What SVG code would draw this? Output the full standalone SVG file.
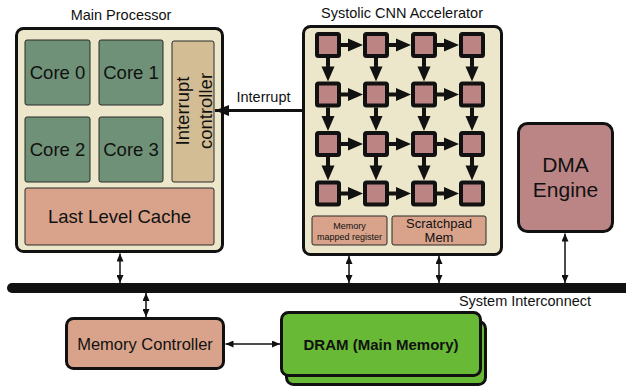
<svg xmlns="http://www.w3.org/2000/svg" xmlns:xlink="http://www.w3.org/1999/xlink" width="626" height="387" viewBox="0 0 626 387">
<style>
text{font-family:"Liberation Sans",Arial,Helvetica,sans-serif;fill:#111;}
.box{stroke:#111;stroke-width:3;}
.cream{fill:#ece6ca;}
.core{fill:#6f9177;stroke:#2a2a2a;stroke-width:1;}
.tan{fill:#d3bd95;stroke:#2a2a2a;stroke-width:1;}
.salmon{fill:#d8a38a;stroke:#2a2a2a;stroke-width:1;}
.pe{fill:#bd8484;stroke:#111;stroke-width:4;}
.t18{font-size:18.5px;text-anchor:middle;}
.ttl{font-size:14.5px;text-anchor:middle;}
.wire{stroke:#111;stroke-width:1.5;fill:none;marker-start:url(#ah);marker-end:url(#ah);}
.ga{fill:#111;}
</style>
<defs>
<marker id="ah" viewBox="0 0 8 7" refX="8" refY="3.5" markerWidth="8" markerHeight="7" markerUnits="userSpaceOnUse" orient="auto-start-reverse"><path d="M0 0L8 3.5L0 7Z" fill="#111"/></marker>
<marker id="ahb" viewBox="0 0 14 11" refX="14" refY="5.5" markerWidth="14" markerHeight="11" markerUnits="userSpaceOnUse" orient="auto"><path d="M0 0L14 5.5L0 11Z" fill="#111"/></marker>
<path id="ha" d="M0 -2H7V-6.5L22 0L7 6.5V2H0Z"/>
<path id="va" d="M-2 0V8.5H-6.5L0 23.5L6.5 8.5H2V0Z"/>
</defs>

<g id="main-processor">
<text class="ttl" x="121" y="20">Main Processor</text>
<rect class="box cream" x="16.5" y="28.5" width="206" height="223" rx="7"/>
<g id="core0"><rect class="core" x="25" y="40" width="65" height="65" rx="2"/><text class="t18" x="57.5" y="79">Core 0</text></g>
<g id="core1"><rect class="core" x="99" y="40" width="64" height="65" rx="2"/><text class="t18" x="131" y="79">Core 1</text></g>
<g id="core2"><rect class="core" x="25" y="117" width="65" height="65" rx="2"/><text class="t18" x="57.5" y="156">Core 2</text></g>
<g id="core3"><rect class="core" x="99" y="117" width="64" height="65" rx="2"/><text class="t18" x="131" y="156">Core 3</text></g>
<g id="interrupt-controller"><rect class="tan" x="172" y="41" width="42" height="141" rx="2"/>
<text class="t18" transform="translate(193,111) rotate(-90)"><tspan x="0" y="-4">Interrupt</tspan><tspan x="0" y="19">controller</tspan></text></g>
<g id="llc"><rect class="salmon" x="25" y="188" width="189" height="57" rx="2"/><text class="t18" x="119.5" y="223">Last Level Cache</text></g>
</g>

<g id="accelerator">
<text class="ttl" x="402" y="18">Systolic CNN Accelerator</text>
<rect class="box cream" x="303.5" y="26.5" width="198" height="228" rx="7"/>
<g id="pe-grid">
<rect class="pe" x="317" y="34" width="22" height="22" rx="1.5"/><rect class="pe" x="365" y="34" width="22" height="22" rx="1.5"/><rect class="pe" x="413" y="34" width="22" height="22" rx="1.5"/><rect class="pe" x="461" y="34" width="22" height="22" rx="1.5"/>
<rect class="pe" x="317" y="83.5" width="22" height="22" rx="1.5"/><rect class="pe" x="365" y="83.5" width="22" height="22" rx="1.5"/><rect class="pe" x="413" y="83.5" width="22" height="22" rx="1.5"/><rect class="pe" x="461" y="83.5" width="22" height="22" rx="1.5"/>
<rect class="pe" x="317" y="133" width="22" height="22" rx="1.5"/><rect class="pe" x="365" y="133" width="22" height="22" rx="1.5"/><rect class="pe" x="413" y="133" width="22" height="22" rx="1.5"/><rect class="pe" x="461" y="133" width="22" height="22" rx="1.5"/>
<rect class="pe" x="317" y="182.5" width="22" height="22" rx="1.5"/><rect class="pe" x="365" y="182.5" width="22" height="22" rx="1.5"/><rect class="pe" x="413" y="182.5" width="22" height="22" rx="1.5"/><rect class="pe" x="461" y="182.5" width="22" height="22" rx="1.5"/>
</g>
<g id="mmr"><rect class="salmon" x="312" y="216" width="75" height="29" rx="2"/>
<text x="349.5" y="228.5" font-size="9" text-anchor="middle">Memory</text><text x="349.5" y="239.5" font-size="9" text-anchor="middle">mapped register</text></g>
<g id="scratchpad"><rect class="salmon" x="392" y="216" width="94" height="29" rx="2"/>
<text x="439" y="228" font-size="13" text-anchor="middle">Scratchpad</text><text x="439" y="242" font-size="13" text-anchor="middle">Mem</text></g>
</g>

<g id="dma-engine">
<rect class="box" x="518.5" y="123.5" width="94" height="108" rx="9" fill="#bc8585" stroke-width="3.5"/>
<text x="565.5" y="172" font-size="21" text-anchor="middle">DMA</text>
<text x="565.5" y="197" font-size="21" text-anchor="middle">Engine</text>
</g>

<g id="system-interconnect">
<line x1="12" y1="288" x2="640" y2="288" stroke="#111" stroke-width="10" stroke-linecap="round"/>
<text x="525" y="306" font-size="14.5" text-anchor="middle">System Interconnect</text>
</g>

<g id="memory-controller">
<rect class="box" x="66.5" y="318.5" width="157" height="50" rx="7" fill="#d8a38a"/>
<text x="145" y="350" font-size="16.5" text-anchor="middle">Memory Controller</text>
</g>

<g id="dram">
<rect class="box" x="286.5" y="321.5" width="199" height="63" rx="7" fill="#67b936"/>
<rect class="box" x="281.5" y="312.5" width="199" height="63" rx="7" fill="#67b936"/>
<text x="381" y="350" font-size="15" font-weight="bold" text-anchor="middle">DRAM (Main Memory)</text>
</g>

<g id="connectors">
<g class="ga">
<use xlink:href="#ha" x="341" y="45"/><use xlink:href="#ha" x="389" y="45"/><use xlink:href="#ha" x="437" y="45"/>
<use xlink:href="#ha" x="341" y="94.5"/><use xlink:href="#ha" x="389" y="94.5"/><use xlink:href="#ha" x="437" y="94.5"/>
<use xlink:href="#ha" x="341" y="144"/><use xlink:href="#ha" x="389" y="144"/><use xlink:href="#ha" x="437" y="144"/>
<use xlink:href="#ha" x="341" y="193.5"/><use xlink:href="#ha" x="389" y="193.5"/><use xlink:href="#ha" x="437" y="193.5"/>
<use xlink:href="#va" x="328" y="58"/><use xlink:href="#va" x="376" y="58"/><use xlink:href="#va" x="424" y="58"/><use xlink:href="#va" x="472" y="58"/>
<use xlink:href="#va" x="328" y="107.5"/><use xlink:href="#va" x="376" y="107.5"/><use xlink:href="#va" x="424" y="107.5"/><use xlink:href="#va" x="472" y="107.5"/>
<use xlink:href="#va" x="328" y="157"/><use xlink:href="#va" x="376" y="157"/><use xlink:href="#va" x="424" y="157"/><use xlink:href="#va" x="472" y="157"/>
</g>
<line x1="302" y1="110.5" x2="215" y2="110.5" stroke="#111" stroke-width="3" marker-end="url(#ahb)"/>
<text x="263.5" y="102" font-size="14.5" text-anchor="middle">Interrupt</text>
<line class="wire" x1="120" y1="253.5" x2="120" y2="283"/>
<line class="wire" x1="146" y1="293" x2="146" y2="317"/>
<line class="wire" x1="349" y1="256" x2="349" y2="283"/>
<line class="wire" x1="439" y1="256" x2="439" y2="283"/>
<line class="wire" x1="565" y1="233.5" x2="565" y2="283"/>
<line class="wire" x1="225.5" y1="344" x2="280" y2="344"/>
</g>
</svg>
